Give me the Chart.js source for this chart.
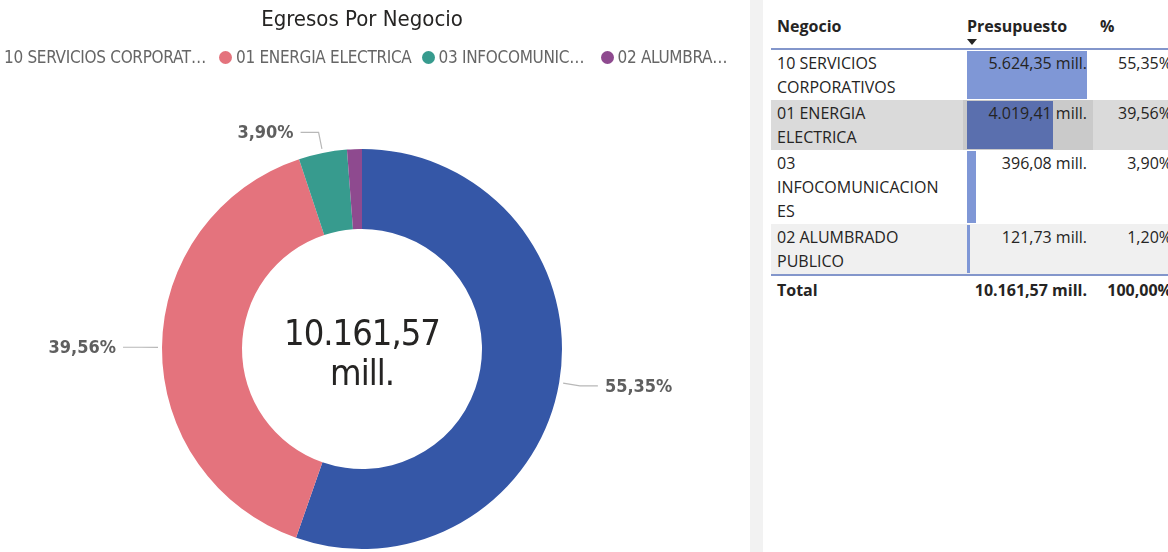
<!DOCTYPE html>
<html lang="es">
<head>
<meta charset="utf-8">
<title>Egresos Por Negocio</title>
<script src="https://cdn.jsdelivr.net/npm/chart.js@4/dist/chart.umd.min.js"></script>
<style>
  html, body { margin: 0; padding: 0; background: #fff; }
  body { width: 1168px; height: 552px; overflow: hidden; position: relative; }
  #donut { position: absolute; left: 0; top: 0; }
  #title {
    position: absolute; left: 0; top: 6px; width: 724px; text-align: center;
    font: 22px "DejaVu Sans Condensed", "DejaVu Sans", sans-serif; color: #252423;
  }
  #legend {
    position: absolute; left: -13px; top: 47px; height: 20px;
    display: flex; align-items: center; white-space: nowrap;
    font: 17px "DejaVu Sans Condensed", "DejaVu Sans", sans-serif; color: #666;
    letter-spacing: -0.3px;
  }
  #legend .item { display: flex; align-items: center; margin-right: 10px; }
  #legend .dot { width: 13px; height: 13px; border-radius: 50%; margin-right: 4px; flex: none; }
  #legend .txt { overflow: hidden; text-overflow: ellipsis; }
  #sep { position: absolute; left: 750px; top: 0; width: 13px; height: 552px; background: #f2f2f2; }
  #tbl { position: absolute; left: 771px; top: 0; }
  table {
    border-collapse: collapse; table-layout: fixed; width: 407px;
    font: 16px "Open Sans", "Noto Sans", sans-serif; color: #252423;
  }
  th { font-weight: 700; text-align: left; line-height: 24px; padding: 14px 6px 10px; position: relative;
       border-bottom: 2px solid #8396cb; }
  td { line-height: 24px; padding: 1px 6px; vertical-align: top; position: relative; }
  td.name { padding-right: 16px; overflow-wrap: anywhere; }
  td.num { text-align: right; }
  td.num span { position: relative; z-index: 1; }
  th.val { padding-left: 4px; }
  th.pct { padding-left: 7px; }
  .bar { position: absolute; left: 4px; top: 1px; bottom: 1px; background: #7f97d6; }
  .arrow { position: absolute; left: 4px; top: 39px; width: 0; height: 0;
           border-left: 5px solid transparent; border-right: 5px solid transparent; border-top: 6px solid #252423; }
  tr.alt td { background: #f0f0f0; }
  tr.hl td { background: #dadada; }
  tr.hl td.val { background: #cacaca; }
  tr.hl .bar { background: #5a6fae; }
  tr.total td { font-weight: 700; border-top: 2px solid #8396cb; padding-top: 2px; }
</style>
</head>
<body>
<canvas id="donut" width="750" height="552"></canvas>
<div id="title">Egresos Por Negocio</div>
<div id="legend"></div>
<div id="sep"></div>
<div id="tbl"></div>

<script>
// Presupuesto por negocio, en millones
const negocios = ['10 SERVICIOS CORPORATIVOS', '01 ENERGIA ELECTRICA', '03 INFOCOMUNICACIONES', '02 ALUMBRADO PUBLICO'];
const presupuesto = [5624.35, 4019.41, 396.08, 121.73];
const colores = ['#3557a7', '#e4737d', '#379b8e', '#8e4a8f'];
const legendMaxWidth = [205, null, 152, 112];
const filaResaltada = 1;

const total = presupuesto.reduce((a, b) => a + b, 0);

function fmt(v) {
  const [ent, dec] = v.toFixed(2).split('.');
  return ent.replace(/\B(?=(\d{3})+(?!\d))/g, '.') + ',' + dec;
}
const pct = v => fmt(v / total * 100) + '%';

// leyenda
const legend = document.getElementById('legend');
negocios.forEach((n, i) => {
  const item = document.createElement('div');
  item.className = 'item';
  const dot = document.createElement('span');
  dot.className = 'dot';
  dot.style.background = colores[i];
  const txt = document.createElement('span');
  txt.className = 'txt';
  txt.textContent = n;
  if (legendMaxWidth[i]) txt.style.maxWidth = legendMaxWidth[i] + 'px';
  item.append(dot, txt);
  legend.appendChild(item);
});

// etiquetas de porcentaje con línea guía
const etiquetas = {
  id: 'etiquetas',
  afterDatasetsDraw(chart) {
    const { ctx } = chart;
    const meta = chart.getDatasetMeta(0);
    ctx.save();
    ctx.font = 'bold 18px "DejaVu Sans Condensed", "DejaVu Sans", sans-serif';
    ctx.textBaseline = 'middle';
    meta.data.forEach((arc, i) => {
      const v = presupuesto[i];
      if (v / total < 0.02) return;
      const { x, y, startAngle, endAngle, outerRadius } = arc.getProps(['x', 'y', 'startAngle', 'endAngle', 'outerRadius'], true);
      const a = (startAngle + endAngle) / 2;
      const cx = Math.cos(a), cy = Math.sin(a);
      const side = cx >= 0 ? 1 : -1;
      const p0 = [x + cx * (outerRadius + 4), y + cy * (outerRadius + 4)];
      const p1 = [x + cx * (outerRadius + 21), y + cy * (outerRadius + 21)];
      const p2 = [p1[0] + side * 18, p1[1]];
      ctx.strokeStyle = '#b8b8b8';
      ctx.lineWidth = 1.2;
      ctx.beginPath();
      ctx.moveTo(p0[0], p0[1]);
      ctx.lineTo(p1[0], p1[1]);
      ctx.lineTo(p2[0], p2[1]);
      ctx.stroke();
      ctx.fillStyle = '#5f5f5f';
      ctx.textAlign = side > 0 ? 'left' : 'right';
      ctx.fillText(pct(v), p2[0] + side * 7, p2[1] + 1);
    });
    ctx.restore();
  }
};

// total en el centro del anillo
const centro = {
  id: 'centro',
  afterDatasetsDraw(chart) {
    const { ctx } = chart;
    const arc = chart.getDatasetMeta(0).data[0];
    ctx.save();
    ctx.font = '36px "DejaVu Sans Condensed", "DejaVu Sans", sans-serif';
    ctx.letterSpacing = '-1px';
    ctx.fillStyle = '#252423';
    ctx.textAlign = 'center';
    ctx.textBaseline = 'alphabetic';
    ctx.fillText(fmt(total), arc.x, arc.y - 4);
    ctx.fillText('mill.', arc.x, arc.y + 36);
    ctx.restore();
  }
};

new Chart(document.getElementById('donut'), {
  type: 'doughnut',
  data: {
    labels: negocios,
    datasets: [{
      data: presupuesto,
      backgroundColor: colores,
      borderWidth: 0,
      hoverOffset: 0
    }]
  },
  options: {
    responsive: false,
    animation: false,
    cutout: '60%',
    layout: { padding: { left: 162, right: 188, top: 149, bottom: 3 } },
    plugins: {
      legend: { display: false },
      tooltip: { enabled: false }
    }
  },
  plugins: [etiquetas, centro]
});

// tabla de detalle con barras de datos
const maxVal = Math.max(...presupuesto);
const barraAncho = 120;
let html = '<table><colgroup><col style="width:192px"><col style="width:130px"><col style="width:85px"></colgroup>';
html += '<thead><tr><th>Negocio</th><th class="val">Presupuesto<span class="arrow"></span></th><th class="pct">%</th></tr></thead><tbody>';
negocios.forEach((n, i) => {
  const cls = i === filaResaltada ? 'hl' : (i % 2 ? 'alt' : '');
  const w = presupuesto[i] / maxVal * barraAncho;
  html += `<tr class="${cls}"><td class="name">${n}</td>` +
    `<td class="num val"><div class="bar" style="width:${w.toFixed(1)}px"></div><span>${fmt(presupuesto[i])} mill.</span></td>` +
    `<td class="num">${pct(presupuesto[i])}</td></tr>`;
});
html += `<tr class="total"><td>Total</td><td class="num">${fmt(total)} mill.</td><td class="num">${pct(total)}</td></tr>`;
html += '</tbody></table>';
document.getElementById('tbl').innerHTML = html;
</script>
</body>
</html>
